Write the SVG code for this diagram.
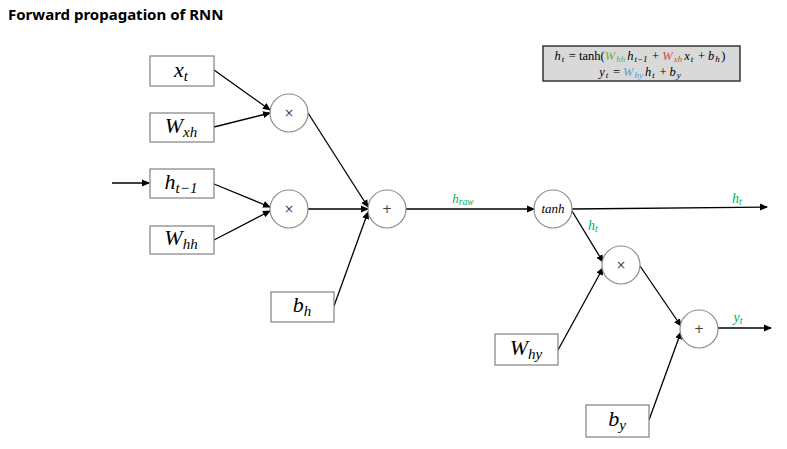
<svg xmlns="http://www.w3.org/2000/svg" width="787" height="449" viewBox="0 0 787 449">
<defs>
<marker id="arr" markerWidth="8" markerHeight="8" refX="7" refY="4" orient="auto" markerUnits="userSpaceOnUse">
<path d="M0,0.5 L8,4 L0,7.5 z" fill="#000"/>
</marker>
<style>
.box{fill:#fff;stroke:#808080;stroke-width:1.2}
.op{fill:#fff;stroke:#8c8c8c;stroke-width:1.2}
.m{font-family:"Liberation Serif",serif;font-style:italic;fill:#000}
.lbl{font-size:22px}
.sub{font-size:15px}
.opt{font-family:"DejaVu Sans",sans-serif;font-size:12px;fill:#404040;text-anchor:middle}
.g{fill:#00b050;font-family:"Liberation Serif",serif;font-style:italic}
.ln{stroke:#000;stroke-width:1.3;fill:none;marker-end:url(#arr)}
.f{font-family:"Liberation Serif",serif;font-size:12.5px;fill:#000}
.i{font-style:italic}
.s{font-size:9px;font-style:italic}
</style>
</defs>
<rect width="787" height="449" fill="#fff"/>
<text x="8" y="20" font-family="'Noto Sans','Liberation Sans',sans-serif" font-weight="bold" font-size="15" fill="#000">Forward propagation of RNN</text>

<g id="formula">
<rect x="543" y="46" width="197" height="35" fill="#d9d9d9" stroke="#333" stroke-width="1.5"/>
<text class="f" x="640" y="60" text-anchor="middle"><tspan class="i">h</tspan><tspan class="s" dx="1" dy="2">t</tspan><tspan dx="1.5" dy="-2"> = tanh(</tspan><tspan class="i" fill="#70ad47">W</tspan><tspan class="s" fill="#70ad47" dx="1" dy="2">hh</tspan><tspan class="i" dx="2" dy="-2">h</tspan><tspan class="s" dx="1" dy="2">t−1</tspan><tspan dx="1.5" dy="-2"> + </tspan><tspan class="i" fill="#c0504d">W</tspan><tspan class="s" fill="#c0504d" dx="1" dy="2">xh</tspan><tspan class="i" dx="2" dy="-2">x</tspan><tspan class="s" dx="1" dy="2">t</tspan><tspan dx="1.5" dy="-2"> + </tspan><tspan class="i">b</tspan><tspan class="s" dx="1" dy="2">h</tspan><tspan dx="1.5" dy="-2">)</tspan></text>
<text class="f" x="640" y="76" text-anchor="middle"><tspan class="i">y</tspan><tspan class="s" dx="1" dy="2">t</tspan><tspan dx="1.5" dy="-2"> = </tspan><tspan class="i" fill="#5b9bd5">W</tspan><tspan class="s" fill="#5b9bd5" dx="1" dy="2">hy</tspan><tspan class="i" dx="2" dy="-2">h</tspan><tspan class="s" dx="1" dy="2">t</tspan><tspan dx="1.5" dy="-2"> + </tspan><tspan class="i">b</tspan><tspan class="s" dx="1" dy="2">y</tspan></text>
</g>

<g id="connectors">
<line class="ln" x1="112" y1="183" x2="149" y2="183"/>
<line class="ln" x1="214" y1="70" x2="270" y2="110"/>
<line class="ln" x1="214" y1="127" x2="270" y2="113"/>
<line class="ln" x1="214" y1="184" x2="270" y2="207"/>
<line class="ln" x1="214" y1="240" x2="270" y2="211"/>
<line class="ln" x1="308" y1="113" x2="368" y2="207"/>
<line class="ln" x1="308" y1="209" x2="368" y2="209"/>
<line class="ln" x1="334" y1="306" x2="368" y2="212"/>
<line class="ln" x1="406" y1="209" x2="534" y2="209"/>
<line class="ln" x1="572" y1="209" x2="767" y2="207"/>
<line class="ln" x1="572" y1="211" x2="603" y2="262"/>
<line class="ln" x1="558" y1="350" x2="603" y2="268"/>
<line class="ln" x1="640" y1="266" x2="681" y2="326"/>
<line class="ln" x1="649" y1="420" x2="681" y2="332"/>
<line class="ln" x1="718" y1="328" x2="771" y2="328"/>
<text class="g" x="463" y="203" font-size="13" text-anchor="middle">h<tspan font-size="9.5" dy="2">raw</tspan></text>
<text class="g" x="737" y="203" font-size="14" text-anchor="middle">h<tspan font-size="10" dy="2">t</tspan></text>
<text class="g" x="593" y="230" font-size="14" text-anchor="middle">h<tspan font-size="10" dy="2">t</tspan></text>
<text class="g" x="738" y="322" font-size="14" text-anchor="middle">y<tspan font-size="10" dy="2">t</tspan></text>
</g>

<g id="xt"><rect class="box" x="150" y="56" width="64" height="30"/><text class="m lbl" x="181" y="77" text-anchor="middle">x<tspan class="sub" dy="4">t</tspan></text></g>
<g id="Wxh"><rect class="box" x="150" y="113" width="64" height="29"/><text class="m lbl" x="181" y="133" text-anchor="middle">W<tspan class="sub" dy="4">xh</tspan></text></g>
<g id="ht1"><rect class="box" x="150" y="169" width="64" height="29"/><text class="m lbl" x="181" y="189" text-anchor="middle">h<tspan class="sub" dy="4">t−1</tspan></text></g>
<g id="Whh"><rect class="box" x="150" y="226" width="64" height="28"/><text class="m lbl" x="181" y="245" text-anchor="middle">W<tspan class="sub" dy="4">hh</tspan></text></g>
<g id="bh"><rect class="box" x="271" y="292" width="63" height="30"/><text class="m lbl" x="302" y="312" text-anchor="middle">b<tspan class="sub" dy="4">h</tspan></text></g>
<g id="Why"><rect class="box" x="495" y="334" width="63" height="31"/><text class="m lbl" x="526" y="355" text-anchor="middle">W<tspan class="sub" dy="4">hy</tspan></text></g>
<g id="by"><rect class="box" x="586" y="405" width="63" height="32"/><text class="m lbl" x="617" y="426" text-anchor="middle">b<tspan class="sub" dy="4">y</tspan></text></g>

<g id="mul1"><circle class="op" cx="289" cy="113" r="19"/><text class="opt" x="289" y="117">×</text></g>
<g id="mul2"><circle class="op" cx="289" cy="209" r="19"/><text class="opt" x="289" y="213">×</text></g>
<g id="add1"><circle class="op" cx="387" cy="209" r="19"/><text class="opt" x="387" y="213">+</text></g>
<g id="tanh"><circle class="op" cx="553" cy="209" r="19"/><text class="m" x="553" y="213" font-size="13" text-anchor="middle">tanh</text></g>
<g id="mul3"><circle class="op" cx="621" cy="265" r="19"/><text class="opt" x="621" y="269">×</text></g>
<g id="add2"><circle class="op" cx="699" cy="329" r="19"/><text class="opt" x="699" y="333">+</text></g>
</svg>
